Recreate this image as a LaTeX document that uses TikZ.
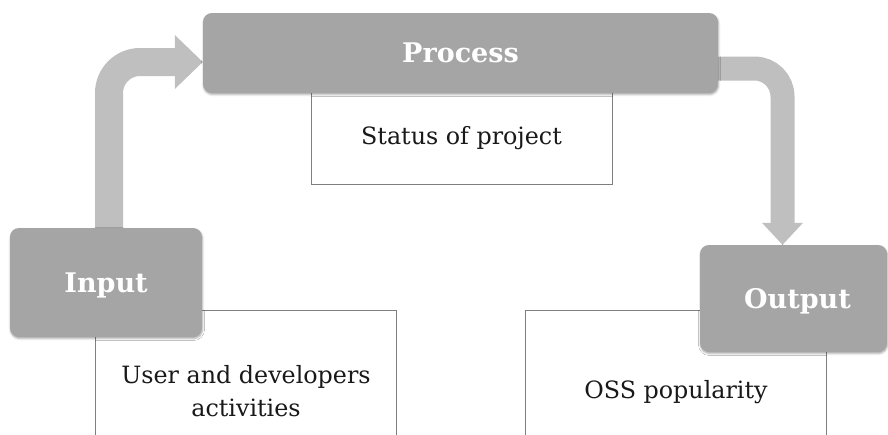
\documentclass[tikz,border=0pt]{standalone}
\usepackage{fontspec}
\setmainfont{DejaVu Serif}
\usetikzlibrary{calc,shadows.blur,backgrounds}
\definecolor{boxgray}{HTML}{A5A5A5}
\definecolor{arrowgray}{HTML}{BFBFBF}
\definecolor{linegray}{HTML}{7F7F7F}
\begin{document}
\begin{tikzpicture}[x=1pt,y=-1pt,
  headbox/.style={rounded corners=9pt, fill=boxgray, text=white,
    font=\bfseries\fontsize{27}{30}\selectfont, inner sep=0pt,
    text height=19.7pt, text depth=0pt,
    blur shadow={shadow xshift=0.5pt, shadow yshift=-1.5pt, shadow blur radius=2pt, shadow opacity=35}},
  infobox/.style={draw=linegray, line width=0.8pt, fill=white, inner sep=0pt},
  onetext/.style={font=\fontsize{23.8}{33}\selectfont, text=black!90, text height=17.4pt, text depth=0pt},
  twotext/.style={font=\fontsize{23.8}{33}\selectfont, text=black!90, align=center},
  flowleft/.style={draw=arrowgray, line width=28pt, rounded corners=31pt},
  flowright/.style={draw=arrowgray, line width=24pt, rounded corners=28pt},
]
\useasboundingbox (0,0) rectangle (888,434);
\begin{scope}
\clip (0,0) rectangle (888,434);
\node[infobox, minimum width=301pt, minimum height=150pt] (inbox) at (245.5,385) {};
\node[infobox, minimum width=301pt, minimum height=150pt] (outbox) at (675.5,385) {};
\node[infobox, onetext, minimum width=301pt, minimum height=96pt] (statbox) at (461.5,136) {Status of project};
\end{scope}
\node[twotext] (intext) at (246,391) {User and developers\\activities};
\node[onetext] (outtext) at (676,390) {OSS popularity};

\node[headbox, minimum width=515pt, minimum height=80pt] (process) at (460.5,53) {Process};
\node[headbox, minimum width=192pt, minimum height=109pt] (input) at (106,282.5) {Input};
\node[headbox, minimum width=187pt, minimum height=107pt] (output) at (793.5,298.5) {\hspace*{8pt}Output};

\begin{scope}[on background layer]
\coordinate (lstart) at ($(input.north)+(3,8)$);
\coordinate (lhead) at ($(process.west)+(-28,9)$);
\draw[flowleft] (lstart) |- (lhead);
\fill[arrowgray] ($(lhead)+(0,-27)$) -- ($(process.west)+(0,9)$) -- ($(lhead)+(0,27)$) -- cycle;
\coordinate (rstart) at ($(process.east)+(-5,15.5)$);
\coordinate (rhead) at ($(output.north)+(-11,-22)$);
\draw[flowright] (rstart) -| (rhead);
\fill[arrowgray] ($(rhead)+(-20.5,0)$) -- ($(output.north)+(-11,0)$) -- ($(rhead)+(20.5,0)$) -- cycle;
\end{scope}
\end{tikzpicture}
\end{document}
